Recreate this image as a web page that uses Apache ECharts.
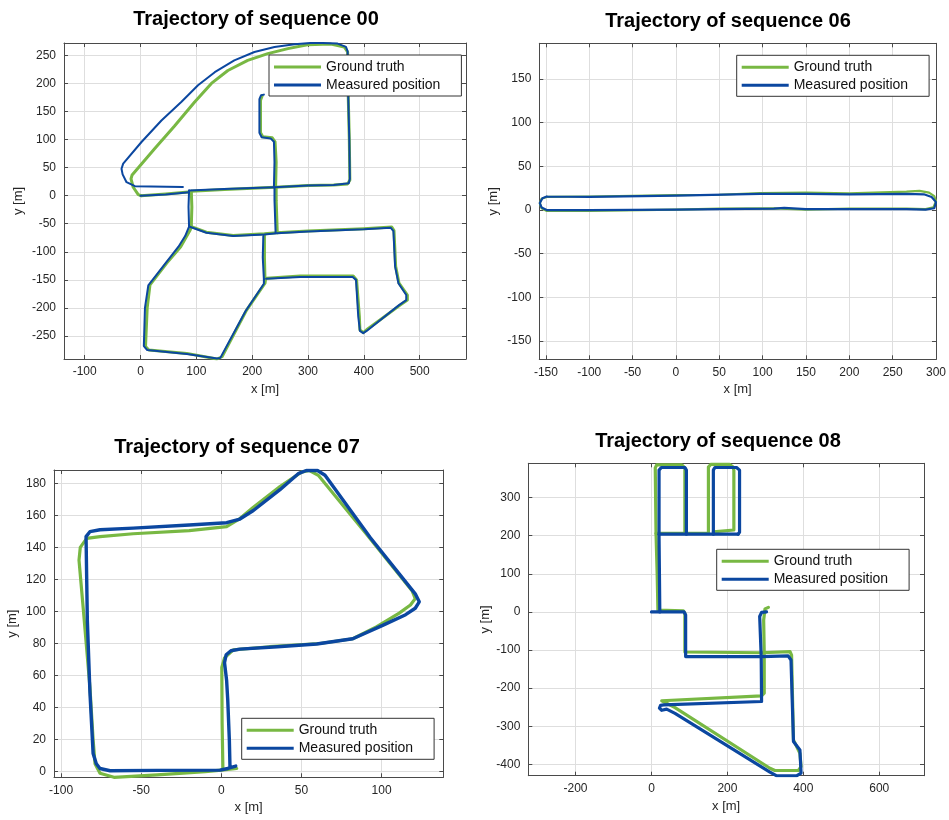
<!DOCTYPE html>
<html>
<head>
<meta charset="utf-8">
<title>Trajectories</title>
<script src="https://cdn.jsdelivr.net/npm/echarts@6/dist/echarts.min.js"></script>
<style>
  html, body { margin: 0; padding: 0; background: #fff; }
  #chart { width: 949px; height: 820px; }
</style>
</head>
<body>
<div id="chart"></div>
<script>
// ---------- Sequence 00 ----------
const truth00_loop = [[241,15],[300,18],[346,19],[371,21],[375,28],[374,100],[372,180],[371,256],[365,265],[341,270],[299,269],[264,262],[228,253],[192,241],[156.5,223],[127,200],[97,167],[61,124],[25.6,84],[-15,37],[-17,30],[-13,15],[-4,2],[1,0]];
const truth00_start = [[1,0],[45,3],[91,7]];
const truth00_mid = [[91,8],[150,11],[241,15]];
const truth00_stub = [[242,16],[243,60],[241,96],[236,103],[219,105],[215,112],[215,170],[218,178]];
const truth00_left = [[91,8],[92,-20],[91,-55]];
const truth00_east = [[91,-55],[118,-65],[166,-71],[222,-68],[244,-66],[300,-63],[400,-59],[450,-56],[454,-62],[457,-126],[463,-156],[478,-177],[478,-186],[465,-195],[405,-239],[399,-244],[393,-239],[392,-215],[387,-150],[381,-143],[286,-143],[226,-147]];
const truth00_inner = [[223,-150],[222,-110],[222,-70]];
const truth00_link = [[245,-66],[243,-8],[243,15]];
const truth00_south = [[91,-55],[89,-61],[72,-91],[47,-120],[17,-159],[12,-200],[9,-269],[15,-275],[83,-281],[137,-291],[146,-287],[190,-204],[223,-156],[224,-149]];

const meas00_loop = [[240,15],[300,18],[346,19],[373,22],[375,30],[374,100],[372,180],[371,257],[368,265],[353,271],[311,272.6],[276,269.6],[240,265],[204,256],[168,241],[133,220],[103,196.6],[73,167],[37.5,134],[1.8,95.6],[-31,57],[-34,48],[-32,38],[-25,24],[-10,17],[76,15.4]];
const meas00_start = [[0,0],[45,2],[87,6]];
const meas00_mid = [[87,9],[150,12],[240,15]];
const meas00_stub = [[239,16],[240,60],[239,96],[233,102],[217,104],[213,112],[213,172],[216,179],[221,180]];
const meas00_left = [[87,9],[86,-20],[87,-55]];
const meas00_east = [[87,-55],[118,-66],[166,-72],[222,-69],[244,-67],[300,-64],[400,-60],[448,-57],[453,-63],[456,-126],[462,-156],[476,-177],[476,-186],[463,-195],[405,-241],[399,-245],[393,-241],[390,-215],[386,-150],[380,-145],[286,-145],[225,-148]];
const meas00_inner = [[221,-149],[219,-110],[220,-72]];
const meas00_link = [[242,-66],[240,-8],[240,15]];
const meas00_south = [[87,-55],[80,-72],[68,-91],[45,-120],[14,-160],[8,-200],[6,-268],[12,-275],[83,-282],[137,-290],[143,-289],[188,-206],[221,-157],[221,-149]];

// ---------- Sequence 06 ----------
const truth06 = [[-149,15],[-100,15.5],[0,17],[50,17.5],[97,19.5],[150,20],[200,19],[266,21],[281,22],[292,20],[298,16],[300,10],[297,3],[288,1],[266,1.5],[200,1.5],[150,0.5],[136,1],[113,2],[50,1.5],[0,0.5],[-100,-1],[-149,-1],[-155,2],[-157,8],[-155,13],[-149,15]];
const meas06 = [[-149,15.5],[-100,15],[0,16.5],[97,18.5],[150,18.5],[200,18],[266,18.5],[286,18],[295,15],[300,9],[298,2],[288,0.5],[266,1],[200,1],[150,1],[125,2.5],[113,1.5],[50,1],[0,0.5],[-100,0],[-149,0],[-155,3],[-157,8],[-154,13.5],[-149,15.5]];

// ---------- Sequence 07 ----------
const truth07 = [[1,1],[0.5,30],[0.3,65],[2,71],[7.5,76],[30,78],[61.5,80],[82,83],[97,90.5],[111,99],[118,104],[121,108],[119,113],[90,149],[60.5,185],[55,188],[50,187],[36.6,178],[20,165],[11.6,158],[3.3,153],[-20,150.5],[-55,148.5],[-75.7,146.7],[-84,145.6],[-88,140],[-88.8,132],[-86,100],[-82,53],[-80,20],[-78.8,5],[-75.7,-1],[-67,-3.5],[-40,-2],[-10,0],[0,1],[9.6,2]];
const meas07 = [[5.4,3],[5,20],[4,45],[3.3,57],[2,68],[3,73],[6,75.5],[11.6,76.5],[35,78],[59.5,79.7],[82,83],[101,91.5],[115,98],[121,102],[123.5,106],[121,111],[93,146],[64.7,185],[60,188],[53,188],[48,186],[36.6,176],[20,163],[11.6,157.7],[3.3,155.4],[-20,154],[-55,152],[-75.7,151],[-82,149.8],[-84.4,146.7],[-84,120],[-83.6,94.7],[-82,50],[-80,11.4],[-78,5],[-75.7,2],[-69.4,0.6],[-40,0.8],[-0.8,1],[4,2],[9,3.5]];

// ---------- Sequence 08 ----------
const truth08_west = [[88,206],[88,378],[80,386],[14,386],[10,378],[12,206],[15,100],[17,5],[20,2],[84,3],[88,-3],[88,-105],[93,-108],[290,-107],[365,-104],[369,-113],[374,-336],[391,-371],[394,-406],[387,-416],[325,-416],[312,-410],[62,-251],[35,-237],[27,-233],[32,-229],[290,-220],[297,-213],[297,-108],[295.5,-21],[299,8],[308,12]];
const truth08_cross = [[12,206],[150,206]];
const truth08_block = [[150,206],[150,380],[156,387],[206,387],[215,380],[217,372],[217,215],[213,210],[163,210]];
const meas08_south = [[0,0],[22,0],[86,0],[90,-8],[90,-117],[95,-117],[290,-117],[360,-115],[367.5,-126],[374,-340],[391,-362],[394,-423],[382,-430],[330,-430],[312,-420],[62,-266],[40,-255],[27,-258],[21,-252],[24,-245],[32,-244],[290,-235],[289,-117],[285,-12],[290,-1],[303,0]];
const meas08_west = [[22,0],[21,100],[20,195],[20,372],[26,379],[88,379],[92,372],[92,204]];
const meas08_cross = [[20,204],[228,204]];
const meas08_block = [[163,204],[163,372],[167,379],[224,379],[232,372],[232,209],[228,204]];

// ---------- Axis ranges and ticks ----------
const xRange = [[-137, 583], [-157.6, 300], [-104.4, 138.5], [-324.4, 717.8]];
const yRange = [[-291, 272], [-171, 191], [-3.5, 188.3], [-429.6, 390]];
const xTicks = [[-100, 0, 100, 200, 300, 400, 500], [-150, -100, -50, 0, 50, 100, 150, 200, 250, 300], [-100, -50, 0, 50, 100], [-200, 0, 200, 400, 600]];
const yTicks = [[-250, -200, -150, -100, -50, 0, 50, 100, 150, 200, 250], [-150, -100, -50, 0, 50, 100, 150], [0, 20, 40, 60, 80, 100, 120, 140, 160, 180], [-400, -300, -200, -100, 0, 100, 200, 300]];
const titles = ['Trajectory of sequence 00', 'Trajectory of sequence 06', 'Trajectory of sequence 07', 'Trajectory of sequence 08'];
const seriesNames = ['Ground truth', 'Measured position'];

const truthSegs = [
  [truth00_loop, truth00_start, truth00_mid, truth00_stub, truth00_left, truth00_east, truth00_inner, truth00_link, truth00_south],
  [truth06],
  [truth07],
  [truth08_west, truth08_cross, truth08_block]
];
const measSegs = [
  [meas00_loop, meas00_start, meas00_mid, meas00_stub, meas00_left, meas00_east, meas00_inner, meas00_link, meas00_south],
  [meas06],
  [meas07],
  [meas08_south, meas08_west, meas08_cross, meas08_block]
];

// ---------- Layout ----------
const FONT = '"Liberation Sans", Arial, Helvetica, sans-serif';
const GREEN = '#78b843';
const BLUE = '#0b47a0';
const AXIS = '#4a4a4a';
const grids = [
  { left: 64, top: 43, width: 402, height: 316 },
  { left: 539.3, top: 43.3, width: 399, height: 316 },
  { left: 54, top: 470, width: 389.3, height: 307.3 },
  { left: 528.3, top: 463.3, width: 395.7, height: 312.4 }
];
const titlePos = [[256, 19], [728, 21], [237, 447], [718, 441]];
const legendPos = [[269, 55], [736.7, 55.3], [241.7, 718.3], [716.7, 549.3]];
const widths = [[3, 2], [2.2, 2.2], [3.2, 3.4], [3.2, 3.2]];
const yNameGap = [39, 39, 35, 36];

const xAxes = [], yAxes = [], series = [], legends = [], graphics = [];
grids.forEach((g, i) => {
  const common = {
    type: 'value', gridIndex: i,
    axisLine: { show: true, onZero: false, lineStyle: { color: AXIS, width: 1 } },
    axisTick: { show: true, inside: true, length: 4, lineStyle: { color: AXIS, width: 1 } }
  };
  xAxes.push({
    ...common, position: 'bottom', min: xRange[i][0], max: xRange[i][1],
    axisTick: { ...common.axisTick, customValues: xTicks[i] },
    axisLabel: { customValues: xTicks[i], color: '#262626', fontSize: 12, fontFamily: FONT, margin: 7 },
    splitLine: { show: true, lineStyle: { color: '#dedede', width: 1 } },
    name: 'x [m]', nameLocation: 'middle', nameGap: 24,
    nameTextStyle: { color: '#262626', fontSize: 13, fontFamily: FONT }
  });
  xAxes.push({
    ...common, position: 'top', min: xRange[i][0], max: xRange[i][1],
    axisTick: { ...common.axisTick, customValues: xTicks[i] },
    axisLabel: { show: false }, splitLine: { show: false }
  });
  yAxes.push({
    ...common, position: 'left', min: yRange[i][0], max: yRange[i][1],
    axisTick: { ...common.axisTick, customValues: yTicks[i] },
    axisLabel: { customValues: yTicks[i], color: '#262626', fontSize: 12, fontFamily: FONT, margin: 8 },
    splitLine: { show: true, lineStyle: { color: '#dedede', width: 1 } },
    name: 'y [m]', nameLocation: 'middle', nameGap: yNameGap[i],
    nameTextStyle: { color: '#262626', fontSize: 13, fontFamily: FONT }
  });
  yAxes.push({
    ...common, position: 'right', min: yRange[i][0], max: yRange[i][1],
    axisTick: { ...common.axisTick, customValues: yTicks[i] },
    axisLabel: { show: false }, splitLine: { show: false }
  });

  const addSegs = (segs, name, color, width) => segs.forEach(d => series.push({
    type: 'line', name, data: d,
    xAxisIndex: i * 2, yAxisIndex: i * 2,
    showSymbol: false, symbol: 'none', smooth: false,
    lineStyle: { color, width, cap: 'round', join: 'round' },
    itemStyle: { color },
    emphasis: { disabled: true }, silent: true
  }));
  addSegs(truthSegs[i], seriesNames[0], GREEN, widths[i][0]);
  addSegs(measSegs[i], seriesNames[1], BLUE, widths[i][1]);

  legends.push({
    left: legendPos[i][0], top: legendPos[i][1], orient: 'vertical',
    data: seriesNames, icon: 'rect', itemWidth: 47, itemHeight: 3, itemGap: 2,
    padding: [4, 21, 3, 5], borderColor: '#333', borderWidth: 1, backgroundColor: '#fff',
    selectedMode: false, itemStyle: { borderWidth: 0 },
    textStyle: { fontSize: 14, color: '#111', fontFamily: FONT, lineHeight: 16 }
  });

  graphics.push({
    type: 'text', x: titlePos[i][0], y: titlePos[i][1], silent: true,
    style: { text: titles[i], fill: '#000', font: 'bold 20px ' + FONT, textAlign: 'center', textVerticalAlign: 'middle' }
  });
});

const chart = echarts.init(document.getElementById('chart'), null, { renderer: 'canvas' });
chart.setOption({
  backgroundColor: '#fff',
  animation: false,
  grid: grids,
  xAxis: xAxes,
  yAxis: yAxes,
  legend: legends,
  graphic: graphics,
  series
});
</script>
</body>
</html>
